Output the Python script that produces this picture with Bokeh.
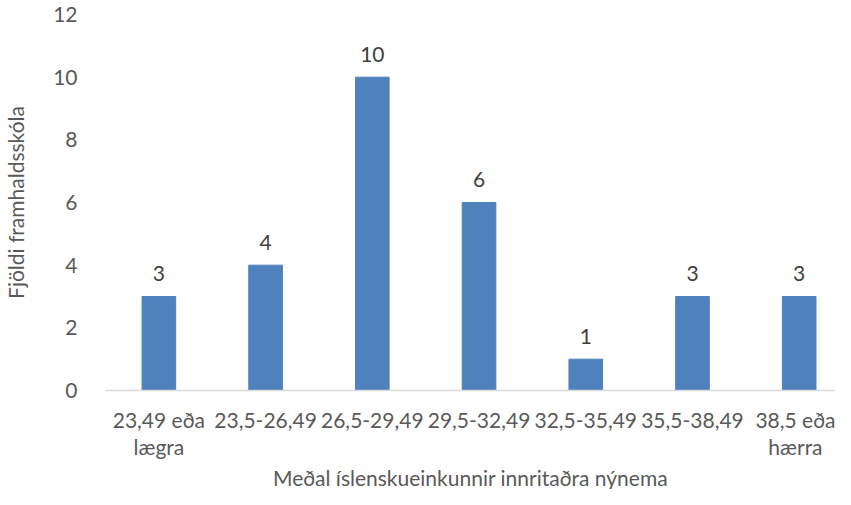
from bokeh.plotting import figure
from bokeh.models import Range1d, FixedTicker, ColumnDataSource, Title
from bokeh.core.properties import value
from bokeh.embed import file_html
from bokeh.resources import INLINE

categories = ["23,49 eða\nlægra", "23,5-26,49", "26,5-29,49", "29,5-32,49",
              "32,5-35,49", "35,5-38,49", "38,5 eða\nhærra"]
counts = [3, 4, 10, 6, 1, 3, 3]
y_ticks = [0, 2, 4, 6, 8, 10, 12]
x_title = "Meðal íslenskueinkunnir innritaðra nýnema"
y_title = "Fjöldi framhaldsskóla"

FONT = "Lato"
FS = "21px"
idx = list(range(len(categories)))
src = ColumnDataSource(dict(x=idx, top=counts, lbl=[str(c) for c in counts]))

p = figure(width=835, height=489, output_backend="svg", toolbar_location=None,
           x_range=Range1d(-0.5, 6.34), y_range=Range1d(0, 12),
           min_border_top=14, min_border_right=0, min_border_left=0, min_border_bottom=0)
p.outline_line_color = None
p.background_fill_color = "white"
p.border_fill_color = "white"

p.vbar(x="x", top="top", width=0.315, source=src, fill_color="#4F81BD", line_color="#4F81BD")
p.text(x="x", y="top", text="lbl", source=src, text_align="center", text_baseline="middle",
       y_offset=-23, text_font=value(FONT), text_font_size=FS, text_color="#404040")

p.xgrid.grid_line_color = None
p.ygrid.grid_line_color = None

xa = p.xaxis[0]
xa.ticker = FixedTicker(ticks=idx)
xa.major_label_overrides = {i: c for i, c in enumerate(categories)}
xa.axis_line_color = "#D9D9D9"
xa.axis_line_width = 1.5
xa.major_tick_line_color = None
xa.minor_tick_line_color = None
xa.major_label_text_font = FONT
xa.major_label_text_font_size = FS
xa.major_label_text_color = "#595959"
xa.major_label_text_line_height = 1.1
xa.major_label_standoff = 10

# x-axis title as a title panel below the axis
p.add_layout(Title(text=x_title, align="center", text_font=FONT, text_font_size=FS,
                   text_font_style="normal", text_color="#595959",
                   standoff=0, offset=9), "below")

ya = p.yaxis[0]
ya.ticker = FixedTicker(ticks=y_ticks)
ya.axis_line_color = None
ya.major_tick_line_color = None
ya.minor_tick_line_color = None
ya.major_label_text_font = FONT
ya.major_label_text_font_size = FS
ya.major_label_text_color = "#595959"
ya.major_label_standoff = 22
ya.axis_label = y_title
ya.axis_label_text_font = FONT
ya.axis_label_text_font_size = FS
ya.axis_label_text_font_style = "normal"
ya.axis_label_text_color = "#595959"
ya.axis_label_standoff = 22

open("out.html", "w").write(file_html(p, INLINE))
